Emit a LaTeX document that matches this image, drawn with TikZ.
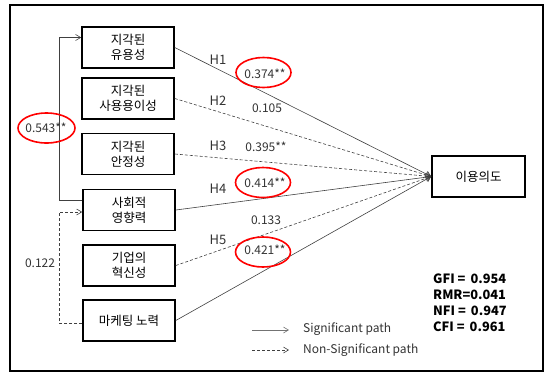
\documentclass[tikz,border=0pt]{standalone}
\usepackage{fontspec}
\setmainfont{Noto Sans CJK KR}
\usetikzlibrary{calc,arrows.meta,shapes.geometric}
\tikzset{
  box/.style={draw,line width=1.6pt,minimum width=92pt,minimum height=41pt,inner sep=0pt,align=center,font=\fontsize{12.5}{15}\selectfont},
  conn/.style={line width=0.6pt,draw=black!75},
  sig/.style={conn,-{Straight Barb[length=5pt,width=6pt]}},
  nsig/.style={conn,dash pattern=on 3pt off 2pt,-{Straight Barb[length=5pt,width=6pt]}},
  lab/.style={font=\fontsize{12}{13}\selectfont,text=black!80,inner sep=0pt},
  hlab/.style={font=\fontsize{13}{14}\selectfont,text=black!80,inner sep=0pt},
  redell/.style={draw=red,line width=1.6pt,ellipse,minimum width=55pt,minimum height=30pt,inner sep=0pt},
}
\begin{document}
\begin{tikzpicture}[x=1pt,y=-1pt]
\useasboundingbox (0,0) rectangle (545,373);
\draw[line width=2pt] (10,5) rectangle (543,371);
% boxes
\node[box] (b1) at (128,47.5) {지각된\\유용성};
\node[box] (b2) at (128,98.5) {지각된\\사용용이성};
\node[box] (b3) at (128,154) {지각된\\안정성};
\node[box] (b4) at (129,210) {사회적\\영향력};
\node[box] (b5) at (129,265.5) {기업의\\혁신성};
\node[box] (b6) at (129,320.5) {마케팅 노력};
\node[box,minimum width=93pt] (t) at (478.5,176.5) {이용의도};
% paths to target
\draw[sig] (b1.east) -- (t.west);
\draw[nsig] (b2.east) -- (t.west);
\draw[nsig] (b3.east) -- (t.west);
\draw[sig] (b4.east) -- (t.west);
\draw[nsig] (b5.east) -- (t.west);
\draw[sig] (b6.east) -- (t.west);
% left correlations
\coordinate (c1) at ($(b4.west)+(0,-10)$);
\coordinate (c2) at ($(b1.west)+(0,-10)$);
\draw[sig] (c1) -- ++(-23,0) |- (c2);
\coordinate (c3) at ($(b6.west)+(0,2.5)$);
\coordinate (c4) at ($(b4.west)+(0,2)$);
\draw[nsig] (c3) -- ++(-23,0) |- (c4);
% H labels
\node[hlab] (h1) at (218,60) {H1};
\node[hlab] (h2) at (218,101) {H2};
\node[hlab] (h3) at (218,146) {H3};
\node[hlab] (h4) at (218,189) {H4};
\node[hlab] (h5) at (218,240) {H5};
% coefficient labels
\node[lab] (v1) at (265,74) {0.374**};
\node[lab] (v2) at (267,108) {0.105};
\node[lab] (v3) at (266,147) {0.395**};
\node[lab] (v4) at (265,183) {0.414**};
\node[lab] (v5) at (266,220) {0.133};
\node[lab] (v6) at (265,250) {0.421**};
\node[lab] (v7) at (46,128) {0.543**};
\node[lab] (v8) at (40,263) {0.122};
% red ellipses
\node[redell] (e1) at (263.5,72.5) {};
\node[redell] (e2) at (263,182.5) {};
\node[redell] (e3) at (263,252) {};
\node[redell,minimum width=57pt] (e4) at (46.5,128) {};
% legend
\coordinate (l1a) at (252,330);
\coordinate (l1b) at (289,330);
\coordinate (l2a) at (252,350);
\coordinate (l2b) at (289,350);
\draw[sig,draw=black!55] (l1a) -- (l1b);
\draw[nsig] (l2a) -- (l2b);
\node[lab,anchor=west] (s1) at (303,329) {Significant path};
\node[lab,anchor=west] (s2) at (303,350) {Non-Significant path};
% fit stats
\node[anchor=north west,inner sep=0pt,align=left,font=\fontsize{12.8}{16}\selectfont\bfseries] (fit) at (433,273.5)
  {GFI = \,0.954\\RMR=0.041\\NFI = \,0.947\\CFI = \,0.961};
\end{tikzpicture}
\end{document}
